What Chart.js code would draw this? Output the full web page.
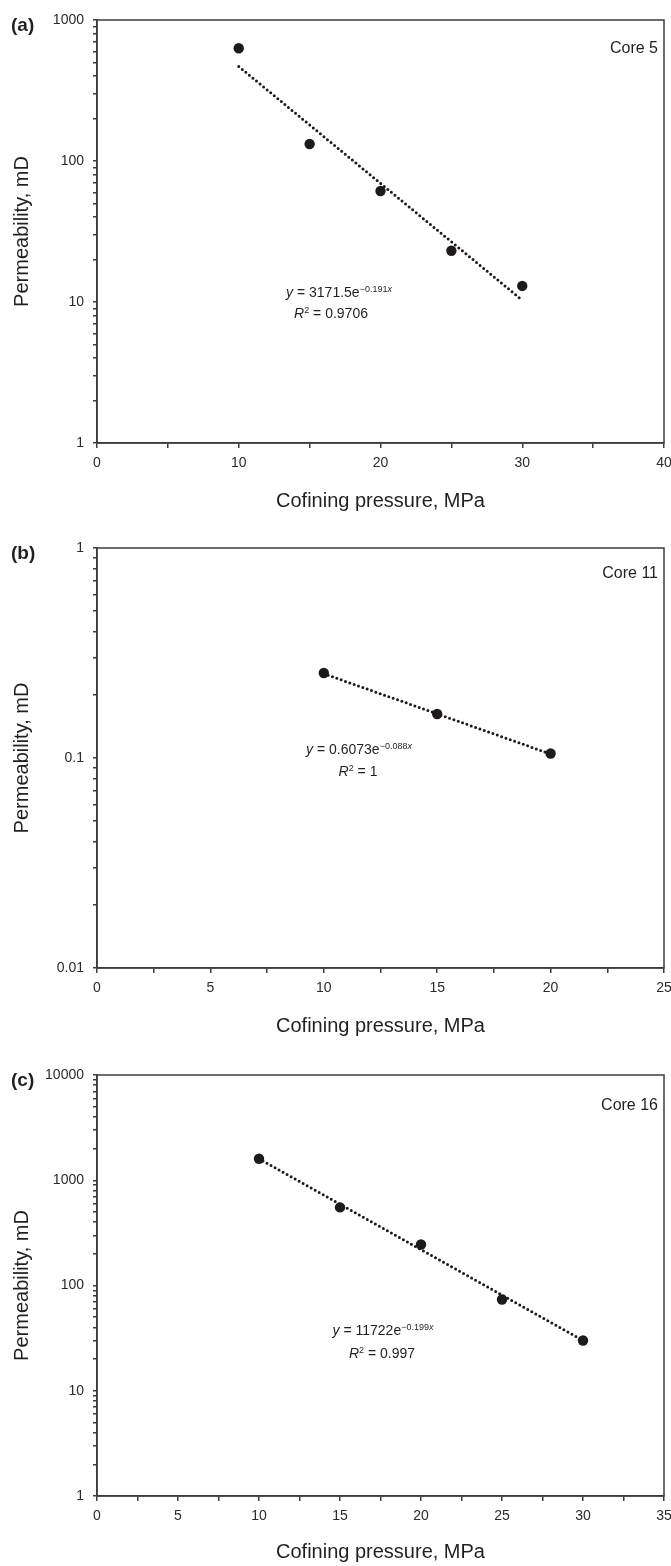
<!DOCTYPE html>
<html>
<head>
<meta charset="utf-8">
<script src="https://cdn.jsdelivr.net/npm/chart.js@4.4.1/dist/chart.umd.min.js"></script>
<style>
  html, body { margin:0; padding:0; background:#fff; width:671px; height:1566px; overflow:hidden; }
  body { position:relative; font-family:"Liberation Sans", Arial, sans-serif; color:#231f20; }
  canvas { position:absolute; left:0; }
  .lbl { position:absolute; font-weight:bold; font-size:19px; transform:translateY(-50%); }
  .core { position:absolute; font-size:16px; transform:translate(-100%,-50%); white-space:nowrap; }
  .eq { position:absolute; font-size:14px; transform:translate(-50%,-50%); white-space:nowrap; }
  .eq sup { font-size:9px; vertical-align:5px; }
</style>
</head>
<body>
<canvas id="cA" width="671" height="515" style="top:0px"></canvas>
<canvas id="cB" width="671" height="525" style="top:515px"></canvas>
<canvas id="cC" width="671" height="526" style="top:1040px"></canvas>

<div class="lbl" style="left:11px; top:25px">(a)</div>
<div class="lbl" style="left:11px; top:553px">(b)</div>
<div class="lbl" style="left:11px; top:1080px">(c)</div>

<div class="core" style="left:658px; top:48px">Core 5</div>
<div class="core" style="left:658px; top:573px">Core 11</div>
<div class="core" style="left:658px; top:1105px">Core 16</div>

<div class="eq" style="left:339px; top:292px"><i>y</i> = 3171.5e<sup>−0.191<i>x</i></sup></div>
<div class="eq" style="left:331px; top:313px"><i>R</i><sup>2</sup> = 0.9706</div>
<div class="eq" style="left:359px; top:749px"><i>y</i> = 0.6073e<sup>−0.088<i>x</i></sup></div>
<div class="eq" style="left:358px; top:771px"><i>R</i><sup>2</sup> = 1</div>
<div class="eq" style="left:383px; top:1330px"><i>y</i> = 11722e<sup>−0.199<i>x</i></sup></div>
<div class="eq" style="left:382px; top:1353px"><i>R</i><sup>2</sup> = 0.997</div>

<script>
// ---- Data ----
const pressureA = [10, 15, 20, 25, 30];
const permA     = [630, 132, 61.3, 23.1, 13.0];
const trendXA   = [10, 30];
const trendYA   = [468, 10.3];

const pressureB = [10, 15, 20];
const permB     = [0.254, 0.162, 0.105];
const trendXB   = [10, 20];
const trendYB   = [0.252, 0.1045];

const pressureC = [10, 15, 20, 25, 30];
const permC     = [1600, 552, 245, 73.7, 30.0];
const trendXC   = [10, 30];
const trendYC   = [1602, 30.0];

// Axis tick labels
const yMajorA = [1, 10, 100, 1000];
const yLabelA = ['1', '10', '100', '1000'];
const yMajorB = [0.01, 0.1, 1];
const yLabelB = ['0.01', '0.1', '1'];
const yMajorC = [1, 10, 100, 1000, 10000];
const yLabelC = ['1', '10', '100', '1000', '10000'];

const xRangeA = [0, 40], xStepA = 5, xLabelStepA = 10;
const xRangeB = [0, 25], xStepB = 2.5, xLabelStepB = 5;
const xRangeC = [0, 35], xStepC = 2.5, xLabelStepC = 5;

const xTitle = 'Cofining pressure, MPa';
const yTitle = 'Permeability, mD';

// ---- Styling ----
const AXIS = '#3d3d3d';
const INK = '#1e1a1b';
const FONT = '"Liberation Sans", Arial, sans-serif';

const boxPlugin = {
  id: 'box',
  afterDraw(chart) {
    const {ctx, chartArea: a} = chart;
    ctx.save();
    ctx.strokeStyle = AXIS;
    ctx.lineWidth = 1.5;
    ctx.strokeRect(a.left, a.top, a.right - a.left, a.bottom - a.top);
    ctx.restore();
  }
};

function logTicks(majors) {
  const out = [];
  for (let i = 0; i < majors.length; i++) {
    out.push(majors[i]);
    if (i < majors.length - 1) {
      for (let k = 2; k <= 9; k++) out.push(majors[i] * k);
    }
  }
  return out;
}

function makeChart(id, px, py, tx, ty, yMajor, yLabel, xRange, xStep, xLabelStep, padTop, xAxisH) {
  const pts = px.map((x, i) => ({x: x, y: py[i]}));
  const trend = tx.map((x, i) => ({x: x, y: ty[i]}));
  const yTickVals = logTicks(yMajor);
  return new Chart(document.getElementById(id), {
    type: 'scatter',
    data: {
      datasets: [
        {
          data: trend, showLine: true, borderColor: INK, borderWidth: 3,
          borderDash: [0, 4.6], borderCapStyle: 'round', pointRadius: 0, fill: false, order: 2
        },
        {
          data: pts, pointRadius: 5.2, pointBackgroundColor: INK, pointBorderColor: INK,
          pointBorderWidth: 0, showLine: false, order: 1
        }
      ]
    },
    options: {
      responsive: false, animation: false, devicePixelRatio: 1,
      layout: { padding: { top: padTop, left: 0, right: 0, bottom: 0 } },
      plugins: { legend: { display: false }, tooltip: { enabled: false } },
      scales: {
        x: {
          type: 'linear', min: xRange[0], max: xRange[1],
          afterFit(s) { s.height = xAxisH; s.paddingRight = 7; s.paddingLeft = 0; },
          ticks: {
            stepSize: xStep, autoSkip: false, maxRotation: 0, padding: 7,
            color: '#2b2b2b', font: { family: FONT, size: 14 },
            callback: (v) => (Math.abs(v / xLabelStep - Math.round(v / xLabelStep)) < 1e-9) ? String(v) : ''
          },
          grid: { drawOnChartArea: false, tickLength: 5, color: AXIS, lineWidth: 1.5 },
          border: { color: AXIS, width: 1.5 },
          title: { display: true, text: xTitle, color: '#231f20',
                   font: { family: FONT, size: 20 }, padding: { top: 0, bottom: 2 } }
        },
        y: {
          type: 'logarithmic', min: yMajor[0], max: yMajor[yMajor.length - 1],
          afterFit(s) { s.width = 97; },
          afterBuildTicks(s) { s.ticks = yTickVals.map(v => ({ value: v })); },
          ticks: {
            autoSkip: false, padding: 9, color: '#2b2b2b', font: { family: FONT, size: 14 },
            callback: (v) => {
              const i = yMajor.findIndex(m => Math.abs(m - v) / m < 1e-6);
              return i >= 0 ? yLabel[i] : '';
            }
          },
          grid: { drawOnChartArea: false, tickLength: 4, color: AXIS, lineWidth: 1.5 },
          border: { color: AXIS, width: 1.5 },
          title: { display: true, text: yTitle, color: '#231f20',
                   font: { family: FONT, size: 20 }, padding: { top: 10, bottom: 0 } }
        }
      }
    },
    plugins: [boxPlugin]
  });
}

makeChart('cA', pressureA, permA, trendXA, trendYA, yMajorA, yLabelA, xRangeA, xStepA, xLabelStepA, 20, 72);
makeChart('cB', pressureB, permB, trendXB, trendYB, yMajorB, yLabelB, xRangeB, xStepB, xLabelStepB, 33, 72);
makeChart('cC', pressureC, permC, trendXC, trendYC, yMajorC, yLabelC, xRangeC, xStepC, xLabelStepC, 35, 70);
</script>
</body>
</html>
